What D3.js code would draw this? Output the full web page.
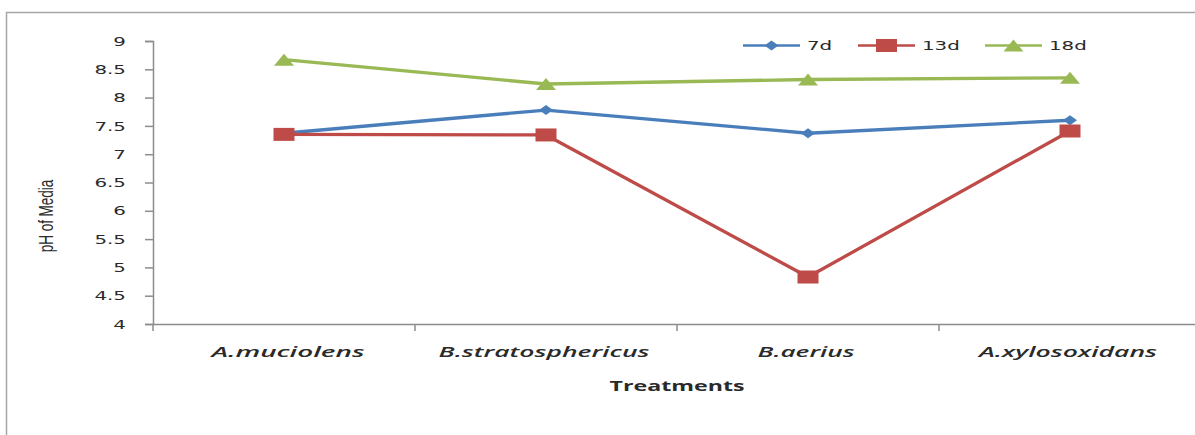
<!DOCTYPE html>
<html><head><meta charset="utf-8">
<script src="https://cdn.jsdelivr.net/npm/d3@7"></script>
<style>body{margin:0;background:#fff}svg{display:block}</style>
</head><body>
<svg id="c" width="1195" height="435"></svg>
<script>
const categories = ["A.muciolens", "B.stratosphericus", "B.aerius", "A.xylosoxidans"];
const seriesNames = ["7d", "13d", "18d"];
const values7d  = [7.37, 7.78, 7.37, 7.60];
const values13d = [7.35, 7.34, 4.83, 7.41];
const values18d = [8.67, 8.24, 8.32, 8.35];
const yTicks = [4, 4.5, 5, 5.5, 6, 6.5, 7, 7.5, 8, 8.5, 9];
const colors = ["#4A7EBB", "#BE4B48", "#98B954"];

(function () {
const svg = d3.select("#c");
const AXIS = "#8c8c8c", TXT = "#2a2a2a";
const STRETCH = 1.55; // source picture is stretched horizontally
const catWidths = [153, 211, 97, 178];

// outer chart frame
svg.append("rect").attr("x", 6.5).attr("y", 12.5).attr("width", 1250).attr("height", 500)
  .attr("fill", "none").attr("stroke", "#a6a6a6").attr("stroke-width", 1.5);

const left = 153, plotTop = 41, bottom = 324, bandW = 262;
const x = d3.scaleBand().domain(categories).range([left, left + bandW * 4]).padding(0);
const y = d3.scaleLinear().domain([4, 9]).range([bottom, plotTop]);
const cx = i => x(categories[i]) + x.bandwidth() / 2;

// y axis
const yAxis = svg.append("g").attr("transform", `translate(${left},0)`)
  .call(d3.axisLeft(y).tickValues(yTicks).tickSize(8).tickFormat(""));
yAxis.select(".domain").attr("stroke", AXIS).attr("stroke-width", 1.5);
yAxis.selectAll(".tick line").attr("stroke", AXIS).attr("stroke-width", 1.5);
svg.append("g").selectAll("g").data(yTicks).join("g")
  .attr("transform", d => `translate(126,${y(d)}) scale(${STRETCH},1)`)
  .append("text").attr("text-anchor", "end").attr("dy", "0.36em")
  .attr("font-family", "DejaVu Sans, Verdana, sans-serif").attr("font-size", 12.8).attr("fill", TXT)
  .text(d => d3.format("")(d));

// x axis
const xAxis = svg.append("g").attr("transform", `translate(0,${bottom})`)
  .call(d3.axisBottom(x).tickSize(0).tickFormat(""));
xAxis.select(".domain").attr("stroke", AXIS).attr("stroke-width", 1.5);
svg.append("g").selectAll("line").data(d3.range(categories.length + 1)).join("line")
  .attr("x1", i => x.range()[0] + i * x.bandwidth()).attr("x2", i => x.range()[0] + i * x.bandwidth())
  .attr("y1", bottom).attr("y2", bottom + 7).attr("stroke", AXIS).attr("stroke-width", 1.5);
svg.append("g").selectAll("text").data(categories).join("text")
  .attr("x", (d, i) => cx(i) + (i === 0 ? 4 : -2)).attr("y", 357).attr("text-anchor", "middle")
  .attr("font-family", "'Open Sans', sans-serif").attr("font-style", "italic").attr("font-weight", 600)
  .attr("font-size", 14).attr("fill", TXT)
  .attr("textLength", (d, i) => catWidths[i]).attr("lengthAdjust", "spacingAndGlyphs").text(d => d);

svg.append("text").attr("x", 677).attr("y", 391).attr("text-anchor", "middle")
  .attr("font-family", "'Open Sans', sans-serif").attr("font-weight", 700).attr("font-size", 13.5)
  .attr("fill", TXT).attr("textLength", 135).attr("lengthAdjust", "spacingAndGlyphs").text("Treatments");

svg.append("text").attr("transform", "translate(53,216) rotate(-90) scale(1,1.45)").attr("text-anchor", "middle")
  .attr("font-family", "Liberation Sans, Arial, sans-serif").attr("font-size", 13.5).attr("fill", TXT).text("pH of Media");

// marker shapes (w x h boxes)
const markerPath = [
  (w, h) => `M${-w/2},0L0,${-h/2}L${w/2},0L0,${h/2}Z`,
  (w, h) => `M${-w/2},${-h/2}H${w/2}V${h/2}H${-w/2}Z`,
  (w, h) => `M${-w/2},${h/2}L0,${-h/2}L${w/2},${h/2}Z`
];
const markerSize = [[14, 10], [21, 13], [20, 12]];
const mk = s => markerPath[s](markerSize[s][0], markerSize[s][1]);

const allSeries = [values7d, values13d, values18d];
const line = d3.line().x((d, i) => cx(i)).y(d => y(d));
allSeries.forEach((vals, s) => {
  svg.append("path").datum(vals).attr("d", line).attr("fill", "none")
    .attr("stroke", colors[s]).attr("stroke-width", 3.3).attr("stroke-linejoin", "round");
  svg.append("g").selectAll("path").data(vals).join("path")
    .attr("transform", (d, i) => `translate(${cx(i)},${y(d)})`)
    .attr("d", mk(s)).attr("fill", colors[s]);
});

// legend
const legX = [743, 858, 985];
seriesNames.forEach((n, s) => {
  const g = svg.append("g").attr("transform", `translate(${legX[s]},45.5)`);
  g.append("line").attr("x1", 0).attr("x2", 57).attr("stroke", colors[s]).attr("stroke-width", 2.5);
  g.append("path").attr("transform", "translate(28.5,0)").attr("d", mk(s)).attr("fill", colors[s]);
  g.append("g").attr("transform", `translate(64,0) scale(${STRETCH},1)`)
    .append("text").attr("dy", "0.36em").attr("font-family", "DejaVu Sans, Verdana, sans-serif")
    .attr("font-size", 12.8).attr("fill", TXT).text(n);
});
})();
</script>
</body></html>
